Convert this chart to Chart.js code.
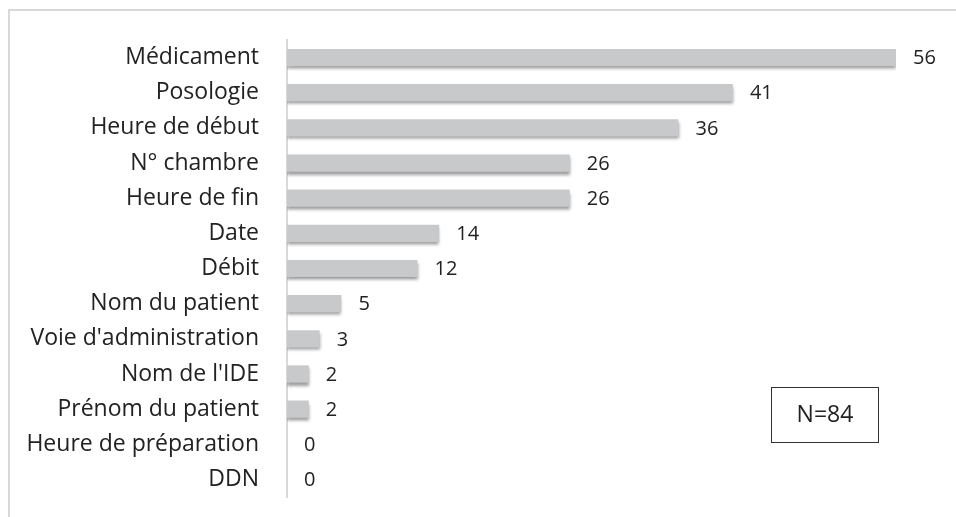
<!DOCTYPE html>
<html><head><meta charset="utf-8">
<script src="https://cdn.jsdelivr.net/npm/chart.js@4"></script>
<style>html,body{margin:0;padding:0;background:#fff}#w{width:956px;height:517px;position:relative}</style>
</head><body><div id="w"><canvas id="c" width="956" height="517"></canvas></div>
<script>
const categories = ["Médicament","Posologie","Heure de début","N° chambre","Heure de fin","Date","Débit","Nom du patient","Voie d'administration","Nom de l'IDE","Prénom du patient","Heure de préparation","DDN"];
const counts = [56,41,36,26,26,14,12,5,3,2,2,0,0];
const totalLabel = "N=84";
const FONT = "'Open Sans', sans-serif";

const shadowPlugin = {
  id: 'shadow',
  beforeDatasetsDraw(chart){ const c=chart.ctx; c.save(); c.shadowColor='rgba(0,0,0,0.38)'; c.shadowOffsetY=3; c.shadowOffsetX=0; c.shadowBlur=3; },
  afterDatasetsDraw(chart){
    const c=chart.ctx; c.restore();
    const meta=chart.getDatasetMeta(0);
    c.save(); c.fillStyle='#222'; c.font='20px '+FONT; c.textBaseline='middle'; c.textAlign='left';
    meta.data.forEach((b,i)=>{ c.fillText(String(counts[i]), b.x+17, b.y+1); });
    c.restore();
  },
  afterDraw(chart){
    const c=chart.ctx; c.save();
    c.strokeStyle='#d9d9d9'; c.lineWidth=2;
    c.beginPath(); c.moveTo(9,517); c.lineTo(9,10); c.lineTo(956,10); c.stroke();
    c.strokeStyle='#333'; c.lineWidth=1;
    c.strokeRect(771.5,387.5,107,55);
    c.fillStyle='#222'; c.font='23px '+FONT; c.textAlign='center'; c.textBaseline='middle';
    c.fillText(totalLabel, 825, 415);
    c.restore();
  }
};

new Chart(document.getElementById('c'), {
  type:'bar',
  data:{ labels:categories, datasets:[{ data:counts, backgroundColor:'#c8c9cb', borderWidth:0, categoryPercentage:1, barPercentage:0.49 }]},
  options:{
    indexAxis:'y', responsive:false, animation:false, devicePixelRatio:1,
    layout:{ padding:{ left:0, right:60, top:40, bottom:20 } },
    plugins:{ legend:{display:false}, tooltip:{enabled:false} },
    scales:{
      x:{ min:0, max:56, display:false, grid:{display:false} },
      y:{ grid:{ display:false }, border:{ display:true, color:'#d9d9d9', width:2 },
          ticks:{ color:'#222', font:{ family:FONT, size:23 }, padding:20 },
          afterFit(s){ s.width = 287; s.paddingTop = 0; s.paddingBottom = 0; } }
    }
  },
  plugins:[shadowPlugin]
});
</script></body></html>
